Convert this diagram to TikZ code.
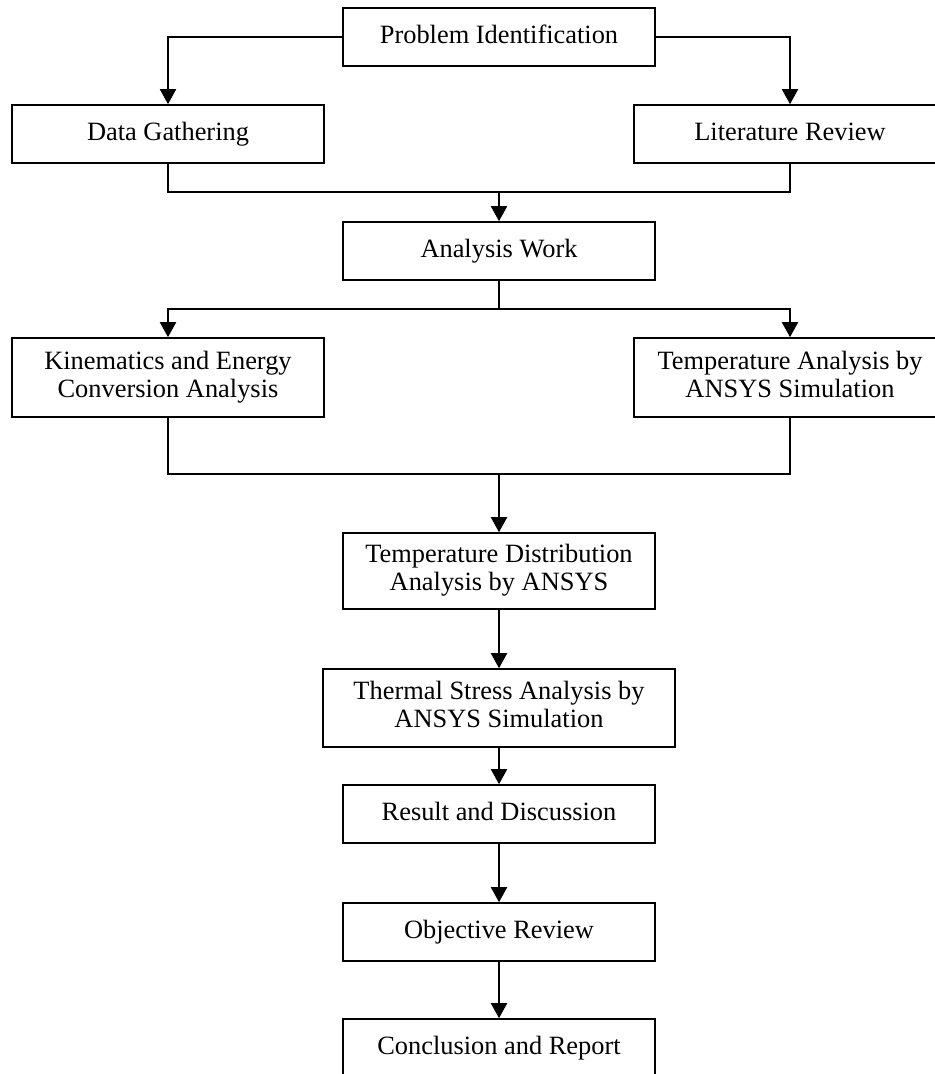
\documentclass[tikz,border=0pt]{standalone}
\usepackage{fontspec}
\setmainfont{Liberation Serif}
\usetikzlibrary{arrows.meta}
\begin{document}
\begin{tikzpicture}[x=0.5pt,y=-0.5pt,
  box/.style={draw, line width=0.8pt, rectangle, inner sep=0pt, align=center,
    font=\fontsize{13.2}{14}\selectfont, minimum height=29pt},
  one/.style={text height=9.2pt, text depth=2.8pt},
  wbox/.style={box, minimum width=156pt},
  conn/.style={line width=1pt, -{Triangle[length=7.5pt,width=8pt]}},
  link/.style={line width=1pt}]
\useasboundingbox (0,0) rectangle (935,1074);
\clip (0,0) rectangle (935,1074);
\fill[white] (0,0) rectangle (935,1074);
\node[wbox, one] (pi) at (499,37) {Problem Identification};
\node[wbox, one] (dg) at (168,134) {Data Gathering};
\node[wbox, one] (lr) at (790,134) {Literature Review};
\node[wbox, one] (aw) at (499,251) {Analysis Work};
\node[wbox, minimum height=39.5pt] (kin) at (168,377.5) {\strut Kinematics and Energy\\\strut Conversion Analysis};
\node[wbox, minimum height=39.5pt] (ta) at (790,377.5) {\strut Temperature Analysis by\\\strut ANSYS Simulation};
\node[wbox, minimum height=38pt] (td) at (499,571) {\strut Temperature Distribution\\\strut Analysis by ANSYS};
\node[box, minimum width=176pt, minimum height=39pt] (ts) at (499,708) {\strut Thermal Stress Analysis by\\\strut ANSYS Simulation};
\node[wbox, one] (rd) at (499,814) {Result and Discussion};
\node[wbox, one] (or) at (499,932) {Objective Review};
\node[wbox, one] (cr) at (499,1048) {Conclusion and Report};
\coordinate (j1) at (499,192);
\coordinate (j2) at (499,309);
\coordinate (j3) at (499,474);
\draw[conn] (pi.west) -| (dg.north);
\draw[conn] (pi.east) -| (lr.north);
\draw[link] (dg.south) |- (j1) -| (lr.south);
\draw[conn] (j1) -- (aw.north);
\draw[link] (aw.south) -- (j2);
\draw[conn] (j2) -| (kin.north);
\draw[conn] (j2) -| (ta.north);
\draw[link] (kin.south) |- (j3) -| (ta.south);
\draw[conn] (j3) -- (td.north);
\draw[conn] (td.south) -- (ts.north);
\draw[conn] (ts.south) -- (rd.north);
\draw[conn] (rd.south) -- (or.north);
\draw[conn] (or.south) -- (cr.north);
\end{tikzpicture}
\end{document}
